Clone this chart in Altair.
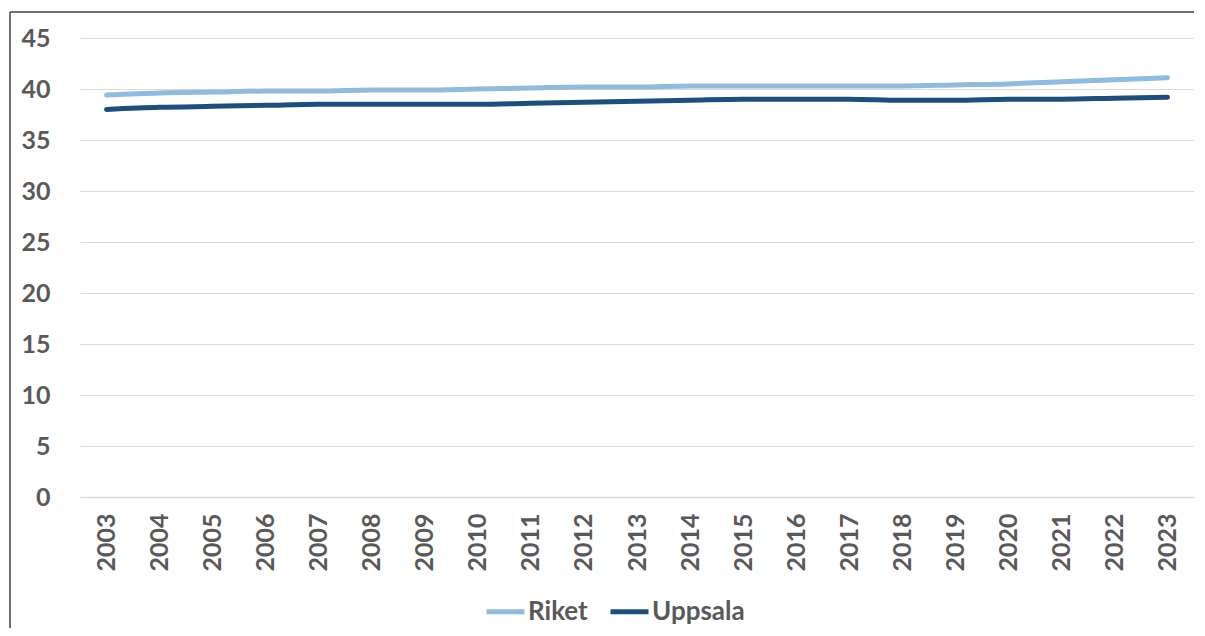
import altair as alt
import pandas as pd

years = [str(y) for y in range(2003, 2024)]
riket = [39.4, 39.6, 39.7, 39.8, 39.8, 39.9, 39.9, 40.0, 40.1, 40.2, 40.2,
         40.3, 40.3, 40.3, 40.3, 40.3, 40.4, 40.5, 40.7, 40.9, 41.1]
uppsala = [38.0, 38.2, 38.3, 38.4, 38.5, 38.5, 38.5, 38.5, 38.6, 38.7, 38.8,
           38.9, 39.0, 39.0, 39.0, 38.9, 38.9, 39.0, 39.0, 39.1, 39.2]
series = ["Riket", "Uppsala"]
colors = ["#8fbcdc", "#1f4e79"]
y_ticks = list(range(0, 50, 5))

rows = []
for i, yr in enumerate(years):
    rows.append({"year": yr, "serie": "Riket", "value": riket[i]})
    rows.append({"year": yr, "serie": "Uppsala", "value": uppsala[i]})
df = pd.DataFrame(rows)

FONT = "Lato"
GRAY = "#595959"
W, H = 1114, 459
PAD = {"left": 72, "top": 30, "right": 0, "bottom": 131}

lines = alt.Chart(df).mark_line(strokeWidth=5, strokeCap="round", interpolate="monotone").encode(
    x=alt.X("year:N", sort=years, title=None,
            scale=alt.Scale(paddingOuter=0.5, paddingInner=0),
            axis=alt.Axis(labelAngle=-90, labelFont=FONT, labelFontWeight="bold",
                          labelFontSize=25, labelColor=GRAY, labelPadding=16,
                          ticks=False, tickSize=0, domainColor="#d9d9d9", domainWidth=1.5,
                          grid=False)),
    y=alt.Y("value:Q", title=None,
            scale=alt.Scale(domain=[0, 45], nice=False),
            axis=alt.Axis(values=y_ticks, labelFont=FONT, labelFontWeight="bold",
                          labelFontSize=25, labelColor=GRAY, labelPadding=30,
                          ticks=False, tickSize=0, domain=False,
                          gridColor="#d9d9d9", gridWidth=1.2)),
    color=alt.Color("serie:N", sort=series,
                    scale=alt.Scale(domain=series, range=colors),
                    legend=alt.Legend(title=None, orient="none", direction="horizontal",
                                      legendX=404, legendY=552,
                                      symbolType="stroke", symbolStrokeWidth=5,
                                      symbolSize=1444, labelFont=FONT,
                                      labelFontWeight="bold", labelFontSize=26,
                                      labelColor=GRAY, labelOffset=1,
                                      columnPadding=12)),
)

frame_df = pd.DataFrame({"a": [0]})
frame_left = alt.Chart(frame_df).mark_rule(stroke="#404040", strokeWidth=1.5).encode(
    x=alt.value(-70), y=alt.value(-26), y2=alt.value(H + PAD["bottom"])
)
frame_top = alt.Chart(frame_df).mark_rule(stroke="#404040", strokeWidth=1.5).encode(
    x=alt.value(-70), x2=alt.value(W + PAD["right"]), y=alt.value(-26)
)

chart = alt.layer(frame_left, frame_top, lines).properties(
    width=W, height=H,
    background="white",
    autosize=alt.AutoSizeParams(type="none"),
    padding=PAD,
).configure_view(strokeWidth=0, stroke="transparent")

chart.save("out.html", embed_options={"renderer": "svg", "actions": False})
